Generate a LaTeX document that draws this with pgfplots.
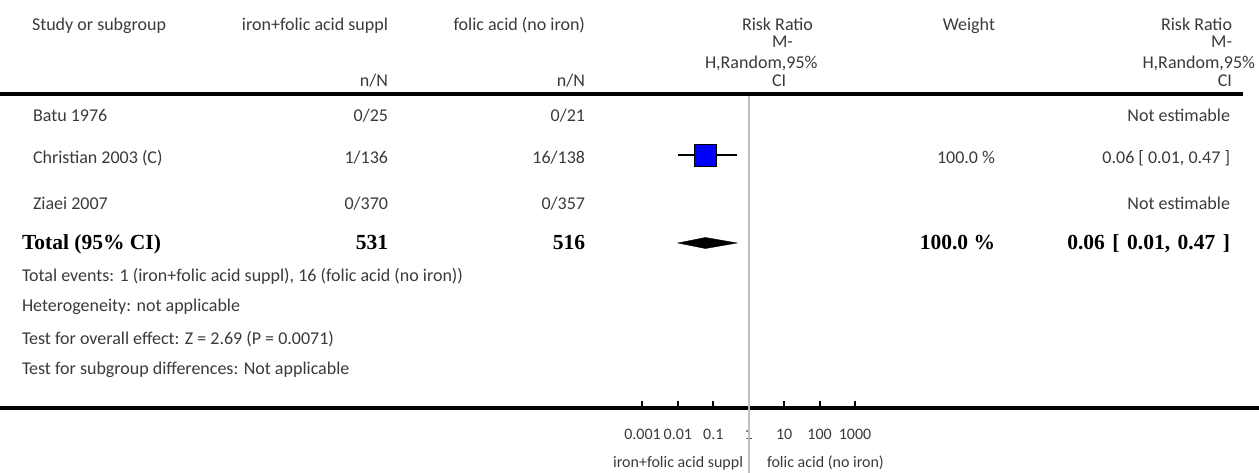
\documentclass[border=0pt]{standalone}
\usepackage{pgfplots}
\pgfplotsset{compat=1.18}
\usepackage{fontspec}
\setmainfont{Carlito}
\newfontfamily\bserif{Liberation Serif}[BoldFont={Liberation Serif Bold}]
\definecolor{tg}{HTML}{3A3A3A}
\definecolor{lg}{HTML}{C0C0C0}
\newcommand\nf{\fontsize{18}{20}\selectfont\color{tg}}
\newcommand\bfb{\fontsize{21.5}{24}\selectfont\bserif\bfseries\color{black}}
\newcommand\ws{\hspace{0.35em}}
\begin{document}
\begin{tikzpicture}[x=1pt,y=1pt,every node/.style={inner sep=0pt, outer sep=0pt}]
\useasboundingbox (0,0) rectangle (1259,-473);
\begin{axis}[
  at={(0,-408)}, anchor=south west,
  scale only axis, width=1259pt, height=312pt,
  xmode=log, xmin=7.28e-22, xmax=2.55e14,
  ymin=-408, ymax=-96,
  axis x line=bottom, axis y line=none,
  x axis line style={line width=3.5pt, black, -},
  xtick={0.001,0.01,0.1,1,10,100,1000},
  xticklabels={0.001,0.01,0.1,1,10,100,1000},
  xminorticks=false,
  tick align=inside, major tick length=7pt,
  xtick style={line width=2pt, black},
  xticklabel style={font=\fontsize{16}{18}\selectfont, text=tg, anchor=center, yshift=-26pt},
  clip=false,
]
\draw[color=lg, line width=2pt] (axis cs:1,-96) -- (axis cs:1,-473);
% study estimate (Christian 2003)
\addplot[only marks, mark=square*, mark size=11pt, mark options={fill=blue, draw=none}] coordinates {(0.06,-155)};
\addplot[black, line width=1.1pt] coordinates {(0.01,-155) (0.47,-155)};
\addplot[black, line width=0.8pt] coordinates {(0.06,-153) (0.06,-157)};
% pooled estimate
\addplot[fill=black, draw=black] coordinates {(0.01,-243) (0.06,-237.5) (0.47,-243) (0.06,-248.5)} -- cycle;
\end{axis}
\draw[line width=4pt] (0,-94.5) -- (1243,-94.5);
% header
\node[anchor=base west] at (32,-31) {\nf Study or subgroup};
\node[anchor=base east] at (388,-31) {\nf iron+folic acid suppl};
\node[anchor=base east] at (585,-31) {\nf folic acid (no iron)};
\node[anchor=base east] at (388,-87) {\nf n/N};
\node[anchor=base east] at (585,-87) {\nf n/N};
\node[anchor=base] at (777.5,-31) {\nf Risk Ratio};
\node[anchor=base west] at (772,-48) {\nf M-};
\node[anchor=base west] at (705,-69) {\nf H,Random,95\%};
\node[anchor=base west] at (772,-87) {\nf CI};
\node[anchor=base east] at (995,-31) {\nf Weight};
\node[anchor=base east] at (1232,-31) {\nf Risk Ratio};
\node[anchor=base east] at (1232,-48) {\nf M-};
\node[anchor=base east] at (1255,-69) {\nf H,Random,95\%};
\node[anchor=base east] at (1232,-87) {\nf CI};
% rows
\node[anchor=base west] at (33,-122) {\nf Batu 1976};
\node[anchor=base east] at (388,-122) {\nf 0/25};
\node[anchor=base east] at (585,-122) {\nf 0/21};
\node[anchor=base east] at (1230,-122) {\nf Not estimable};
\node[anchor=base west] at (33,-164) {\nf Christian 2003 (C)};
\node[anchor=base east] at (388,-164) {\nf 1/136};
\node[anchor=base east] at (585,-164) {\nf 16/138};
\node[anchor=base east] at (995,-164) {\nf 100.0 \%};
\node[anchor=base east] at (1230,-164) {\nf 0.06 [ 0.01, 0.47 ]};
\node[anchor=base west] at (33,-210) {\nf Ziaei 2007};
\node[anchor=base east] at (388,-210) {\nf 0/370};
\node[anchor=base east] at (585,-210) {\nf 0/357};
\node[anchor=base east] at (1230,-210) {\nf Not estimable};
\node[anchor=base west] at (22,-250) {\bfb Total (95\% CI)};
\node[anchor=base east] at (388,-250) {\bfb 531};
\node[anchor=base east] at (585,-250) {\bfb 516};
\node[anchor=base east] at (995,-250) {\bfb 100.0 \%};
\node[anchor=base east] at (1230,-250) {\bfb 0.06\ws[\ws0.01,\ws0.47\ws]};
\node[anchor=base west] at (22,-282) {\nf Total events: 1 (iron+folic acid suppl), 16 (folic acid (no iron))};
\node[anchor=base west] at (22,-312) {\nf Heterogeneity: not applicable};
\node[anchor=base west] at (22,-344) {\nf Test for overall effect: Z = 2.69 (P = 0.0071)};
\node[anchor=base west] at (22,-374) {\nf Test for subgroup differences: Not applicable};
% bottom labels
\node[anchor=base east] at (743,-467) {\fontsize{16}{18}\selectfont\color{tg} iron+folic acid suppl};
\node[anchor=base west] at (767,-467) {\fontsize{16}{18}\selectfont\color{tg} folic acid (no iron)};
\end{tikzpicture}
\end{document}
